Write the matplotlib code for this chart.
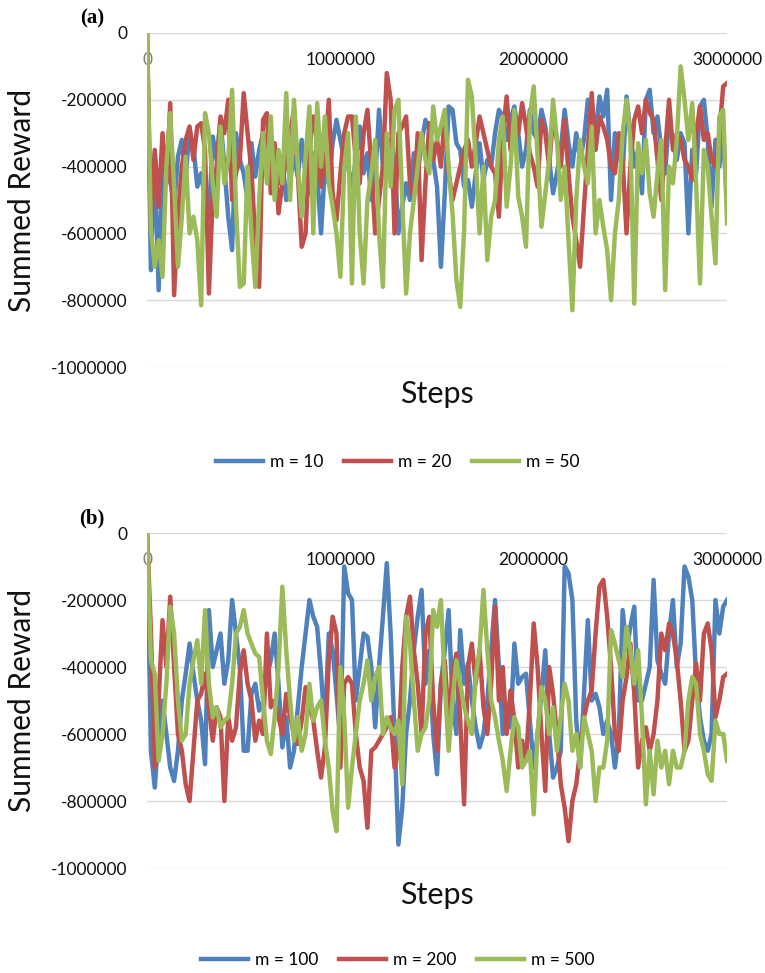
import numpy as np
import matplotlib
matplotlib.use("Agg")
import matplotlib.pyplot as plt

plt.rcParams['font.family'] = ['Lato', 'DejaVu Sans']

# summed reward per evaluation point, in thousands (one point every 20000 steps)
steps = np.arange(151) * 20000

# panel (a): m = 10, 20, 50
reward_a_m10 = [
    0, -710, -360, -770, -420, -360, -440, -520, -370, -320,
    -430, -290, -340, -460, -420, -500, -560, -310, -380, -260,
    -400, -550, -650, -300, -380, -420, -500, -330, -430, -350,
    -300, -330, -400, -340, -450, -380, -500, -440, -370, -430,
    -320, -420, -480, -360, -420, -600, -400, -450, -330, -260,
    -320, -380, -400, -460, -380, -280, -420, -360, -500, -440,
    -230, -400, -420, -320, -380, -600, -520, -450, -500, -360,
    -420, -330, -260, -290, -380, -460, -700, -480, -220, -230,
    -330, -350, -460, -440, -520, -420, -330, -440, -380, -400,
    -300, -230, -250, -320, -260, -220, -300, -400, -350, -230,
    -300, -320, -230, -280, -380, -480, -420, -350, -230, -330,
    -400, -300, -380, -320, -200, -220, -300, -190, -250, -170,
    -500, -300, -350, -420, -190, -300, -400, -350, -480, -200,
    -170, -300, -250, -350, -420, -250, -330, -380, -300, -330,
    -600, -350, -420, -220, -200, -320, -520, -320, -400, -300,
    -520]
reward_a_m20 = [
    0, -590, -350, -520, -300, -450, -210, -785, -550, -400,
    -320, -280, -380, -280, -270, -350, -780, -480, -400, -250,
    -300, -200, -500, -420, -380, -180, -300, -410, -620, -760,
    -260, -240, -480, -330, -540, -450, -380, -300, -230, -420,
    -640, -600, -350, -250, -320, -460, -380, -200, -480, -560,
    -420, -300, -250, -250, -380, -450, -300, -230, -400, -600,
    -500, -400, -120, -200, -600, -300, -280, -250, -450, -500,
    -300, -680, -450, -270, -380, -320, -400, -250, -420, -500,
    -450, -400, -350, -320, -400, -330, -250, -300, -350, -400,
    -420, -550, -300, -190, -350, -320, -300, -210, -280, -360,
    -400, -460, -260, -300, -400, -250, -320, -400, -260, -420,
    -550, -620, -700, -520, -350, -180, -350, -250, -280, -320,
    -400, -420, -300, -380, -600, -400, -260, -220, -300, -200,
    -240, -260, -380, -500, -350, -200, -350, -300, -320, -380,
    -400, -440, -300, -220, -320, -300, -380, -400, -300, -160,
    -150]
reward_a_m50 = [
    0, -590, -700, -620, -730, -400, -240, -460, -700, -550,
    -370, -600, -550, -620, -815, -240, -300, -450, -550, -280,
    -450, -380, -170, -520, -760, -750, -400, -600, -760, -500,
    -300, -450, -250, -500, -350, -450, -180, -500, -200, -400,
    -550, -370, -220, -600, -210, -400, -250, -450, -520, -600,
    -730, -400, -300, -750, -250, -600, -750, -500, -420, -320,
    -600, -760, -300, -460, -230, -200, -500, -780, -600, -500,
    -400, -300, -380, -420, -220, -320, -280, -230, -400, -540,
    -740, -820, -590, -140, -190, -380, -600, -400, -680, -550,
    -500, -320, -250, -520, -400, -230, -490, -550, -640, -250,
    -160, -370, -580, -480, -380, -200, -320, -500, -400, -620,
    -830, -500, -320, -400, -450, -280, -600, -500, -580, -650,
    -800, -600, -500, -300, -200, -320, -810, -330, -420, -320,
    -480, -550, -420, -320, -770, -400, -450, -320, -100, -200,
    -320, -210, -450, -750, -350, -400, -550, -690, -250, -230,
    -570]

# panel (b): m = 100, 200, 500
reward_b_m100 = [
    0, -650, -760, -600, -500, -600, -700, -740, -650, -500,
    -420, -330, -420, -500, -560, -690, -230, -400, -350, -300,
    -450, -380, -200, -300, -400, -650, -650, -480, -450, -530,
    -500, -430, -380, -300, -450, -640, -550, -700, -650, -520,
    -400, -300, -200, -250, -280, -420, -580, -300, -350, -480,
    -620, -100, -180, -200, -500, -400, -300, -310, -400, -580,
    -400, -250, -90, -300, -600, -930, -820, -600, -500, -350,
    -250, -170, -450, -350, -600, -720, -450, -350, -230, -500,
    -600, -290, -450, -390, -500, -580, -640, -600, -500, -350,
    -200, -400, -600, -560, -580, -330, -450, -430, -420, -560,
    -700, -600, -480, -350, -600, -730, -700, -650, -100, -120,
    -200, -560, -700, -480, -260, -500, -480, -520, -600, -560,
    -600, -700, -600, -230, -350, -280, -220, -500, -500, -450,
    -400, -140, -380, -420, -450, -300, -200, -400, -330, -100,
    -130, -200, -430, -550, -620, -650, -600, -200, -300, -220,
    -200]
reward_b_m200 = [
    0, -290, -700, -500, -260, -400, -190, -400, -600, -650,
    -750, -800, -650, -500, -480, -420, -520, -620, -520, -550,
    -800, -550, -620, -580, -420, -350, -450, -500, -620, -560,
    -600, -300, -520, -500, -550, -600, -480, -550, -600, -630,
    -560, -460, -520, -560, -650, -730, -640, -380, -250, -300,
    -700, -450, -430, -450, -600, -700, -740, -880, -650, -640,
    -620, -600, -580, -550, -700, -650, -400, -250, -190, -350,
    -450, -600, -300, -250, -500, -650, -450, -380, -560, -420,
    -360, -560, -810, -400, -330, -450, -350, -520, -600, -450,
    -220, -500, -400, -600, -470, -560, -700, -620, -680, -500,
    -270, -400, -600, -770, -400, -480, -600, -750, -820, -920,
    -800, -750, -650, -550, -500, -470, -300, -160, -140, -250,
    -400, -600, -650, -500, -430, -330, -480, -700, -620, -580,
    -650, -600, -500, -300, -350, -270, -300, -380, -500, -650,
    -620, -500, -390, -500, -300, -270, -350, -550, -500, -430,
    -420]
reward_b_m500 = [
    0, -380, -420, -680, -600, -450, -220, -300, -500, -620,
    -600, -450, -380, -320, -450, -230, -450, -550, -520, -580,
    -560, -550, -450, -300, -280, -230, -300, -330, -360, -370,
    -500, -620, -660, -550, -400, -160, -350, -500, -620, -550,
    -650, -600, -450, -560, -520, -500, -620, -700, -830, -890,
    -400, -550, -820, -700, -600, -500, -450, -380, -500, -430,
    -400, -600, -550, -580, -600, -560, -750, -250, -330, -500,
    -650, -600, -580, -500, -230, -280, -200, -450, -650, -500,
    -380, -450, -520, -560, -600, -430, -350, -170, -350, -500,
    -550, -620, -680, -770, -650, -550, -580, -700, -680, -650,
    -840, -600, -460, -500, -600, -520, -650, -550, -450, -500,
    -650, -600, -700, -550, -600, -650, -800, -700, -700, -620,
    -290, -330, -380, -430, -280, -350, -450, -350, -550, -810,
    -650, -780, -620, -700, -650, -750, -650, -700, -700, -650,
    -500, -430, -450, -600, -650, -720, -740, -560, -600, -600,
    -680]

colors = ['#4F81BD', '#C0504D', '#9BBB59']
panels = [
    ('(a)', [reward_a_m10, reward_a_m20, reward_a_m50], ['m = 10', 'm = 20', 'm = 50'],
     [0.1922, 0.6228, 0.7582, 0.3433], 0.525),
    ('(b)', [reward_b_m100, reward_b_m200, reward_b_m500], ['m = 100', 'm = 200', 'm = 500'],
     [0.1922, 0.1079, 0.7582, 0.3443], 0.013),
]

fig = plt.figure(figsize=(7.65, 9.73), dpi=100)

for tag, series, labels, rect, leg_y in panels:
    ax = fig.add_axes(rect)
    for vals, col, lab in zip(series, colors, labels):
        ax.plot(steps, np.array(vals) * 1000, color=col, lw=3.2, label=lab,
                solid_joinstyle='round')

    ax.set_xlim(0, 3000000)
    ax.set_ylim(-1000000, 0)
    ax.set_yticks(np.arange(-1000000, 1, 200000))
    ax.set_yticklabels([f'{v:d}' for v in np.arange(-1000000, 1, 200000)])
    ax.grid(axis='y', color='#D9D9D9', lw=1)
    ax.set_axisbelow(True)
    for s in ax.spines.values():
        s.set_visible(False)

    # x axis sits on the zero line, labels hang just below it
    ax.xaxis.set_ticks_position('top')
    ax.set_xticks([0, 1000000, 2000000, 3000000])
    ax.set_xticklabels(['0', '1000000', '2000000', '3000000'])
    ax.tick_params(axis='x', length=0, pad=-25, labelsize=12.5, labelcolor='#111111')
    ax.tick_params(axis='y', length=0, pad=14, labelsize=12.5, labelcolor='#111111')
    ax.get_xticklabels()[0].set_color('#7F7F7F')

    ax.text(0.5, -0.08, 'Steps', transform=ax.transAxes, ha='center', va='center',
            fontsize=22, color='#111111')
    ax.text(-0.215, 0.5, 'Summed Reward', transform=ax.transAxes, rotation=90,
            ha='center', va='center', fontsize=21.5, color='#111111')

    ax.text(-0.095, 1.043, tag, transform=ax.transAxes, ha='center', va='center',
            fontsize=15, fontweight='bold', family='Liberation Serif')

    fig.legend(*ax.get_legend_handles_labels(), loc='center', bbox_to_anchor=(0.52, leg_y),
               ncol=3, frameon=False, fontsize=12.5, handlelength=2.7,
               handletextpad=0.4, columnspacing=1.2)

fig.savefig('out.png', dpi=100)
